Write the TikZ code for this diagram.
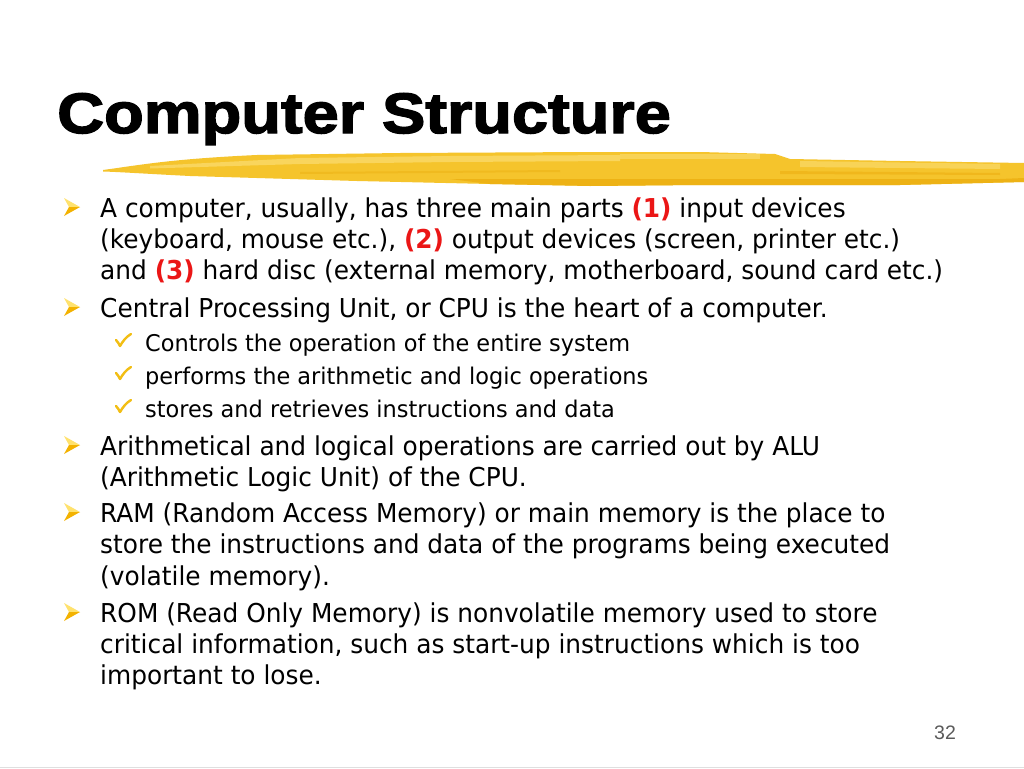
\documentclass[tikz,border=0pt]{standalone}
\usepackage{fontspec}
\newfontfamily\bodyf[FakeStretch=0.955]{DejaVu Sans}
\newfontfamily\subf[FakeStretch=0.975]{DejaVu Sans}
\newfontfamily\titlef[FakeStretch=1.14,FakeBold=2.5]{Liberation Sans Bold}
\newfontfamily\numf{Liberation Sans}
\definecolor{bred}{RGB}{235,22,22}
\definecolor{brushA}{RGB}{245,196,44}
\definecolor{brushL}{RGB}{250,218,106}
\definecolor{brushD}{RGB}{236,174,16}
\definecolor{bulL}{RGB}{255,226,110}
\definecolor{bulD}{RGB}{243,178,0}
\definecolor{chkc}{RGB}{242,190,20}
\definecolor{pgnum}{RGB}{90,90,90}
\tikzset{
  body/.style={anchor=base west, inner sep=0pt, font=\bodyf\fontsize{26}{30}\selectfont},
  subbody/.style={anchor=base west, inner sep=0pt, font=\subf\fontsize{23}{26}\selectfont},
  arrowbul/.pic={
    \fill[bulL] (-8,-9) -- (8,0) -- (-3,0) -- cycle;
    \fill[bulD] (-3,0) -- (8,0) -- (-8,9) -- cycle;
  },
  chkpic/.pic={
    \draw[chkc, line width=2.4pt, line cap=round, line join=round]
      (0,-11) .. controls (2,-9) and (3,-7) .. (4,-5)
      .. controls (7,-10) and (10,-14) .. (15,-17);
  }
}
\newcommand{\rb}[1]{\textcolor{bred}{\bfseries #1}}
\begin{document}
\begin{tikzpicture}[x=1pt,y=-1pt]
\useasboundingbox (0,0) rectangle (1024,768);
\fill[white] (0,0) rectangle (1024,768);
\draw[gray!25, line width=1pt] (0,767) -- (1024,767);

% brush stroke
\fill[brushA] (103,170) .. controls (140,165) and (170,159) .. (257,155)
  -- (400,153) -- (590,152) -- (700,152) -- (775,154) -- (790,159)
  -- (900,161) -- (1024,163) -- (1024,182) -- (900,185) -- (833,185)
  -- (700,185) -- (590,186) -- (490,184) -- (357,181) -- (190,176)
  .. controls (150,174) and (120,172) .. (103,171.5) -- cycle;
\fill[brushL, opacity=0.8] (150,166) -- (300,158) -- (450,156) -- (620,155)
  -- (620,161) -- (450,162) -- (300,164) -- (150,168.5) -- cycle;
\fill[brushL, opacity=0.7] (620,154) -- (760,154) -- (760,159) -- (620,159) -- cycle;
\fill[brushL, opacity=0.7] (800,161) -- (1000,164) -- (1000,169) -- (800,167) -- cycle;
\fill[brushD, opacity=0.8] (450,179) -- (700,179) -- (1000,179) -- (1024,178)
  -- (1024,182) -- (900,185) -- (700,185) -- (590,186) -- (490,184) -- cycle;
\fill[brushD, opacity=0.55] (780,171) -- (1000,173) -- (1000,175) -- (780,174) -- cycle;
\fill[brushD, opacity=0.45] (300,172) -- (560,170) -- (560,172) -- (300,174) -- cycle;

% title
\node[anchor=base west, inner sep=0pt] (title) at (57,133)
  {\titlef\fontsize{57}{60}\selectfont Computer Structure};

% bullets
\pic (b1) at (72,207) {arrowbul};
\pic (b2) at (72,307) {arrowbul};
\pic (b3) at (72,445) {arrowbul};
\pic (b4) at (72,512) {arrowbul};
\pic (b5) at (72,612) {arrowbul};

\node[body] (l1) at (100,217) {A computer, usually, has three main parts \rb{(1)} input devices};
\node[body] (l2) at (100,248) {(keyboard, mouse etc.), \rb{(2)} output devices (screen, printer etc.)};
\node[body] (l3) at (100,279) {and \rb{(3)} hard disc (external memory, motherboard, sound card etc.)};
\node[body] (l4) at (100,317) {Central Processing Unit, or CPU is the heart of a computer.};

\pic (c1) at (116,351) {chkpic};
\pic (c2) at (116,384) {chkpic};
\pic (c3) at (116,417) {chkpic};
\node[subbody] (s1) at (145,351) {Controls the operation of the entire system};
\node[subbody] (s2) at (145,384) {performs the arithmetic and logic operations};
\node[subbody] (s3) at (145,417) {stores and retrieves instructions and data};

\node[body] (l5) at (100,455) {Arithmetical and logical operations are carried out by ALU};
\node[body] (l6) at (100,486) {(Arithmetic Logic Unit) of the CPU.};
\node[body] (l7) at (100,522) {RAM (Random Access Memory) or main memory is the place to};
\node[body] (l8) at (100,553) {store the instructions and data of the programs being executed};
\node[body] (l9) at (100,585) {(volatile memory).};
\node[body] (l10) at (100,622) {ROM (Read Only Memory) is nonvolatile memory used to store};
\node[body] (l11) at (100,653) {critical information, such as start-up instructions which is too};
\node[body] (l12) at (100,684) {important to lose.};

\node[anchor=base west, inner sep=0pt, text=pgnum, font=\numf\fontsize{19.5}{22}\selectfont] (pg) at (934,739) {32};
\end{tikzpicture}
\end{document}
